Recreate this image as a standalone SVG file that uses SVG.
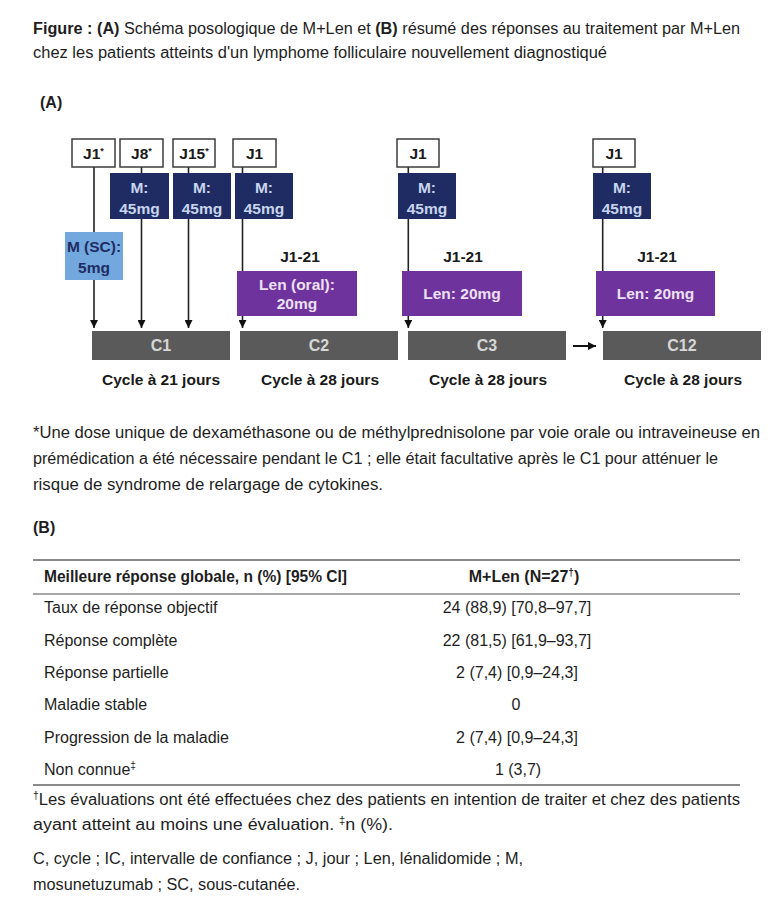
<svg xmlns="http://www.w3.org/2000/svg" width="775" height="907" viewBox="0 0 775 907">
<defs>
<style>
.t{font-family:"Liberation Sans Narrow","Liberation Sans",Arial,sans-serif;font-size:16px;fill:#1e1e1e}
.b{font-weight:bold}
.a{font-family:"Liberation Sans",Arial,sans-serif;font-weight:bold;font-size:15.5px;fill:#1a1a1a;text-anchor:middle}
.jb{fill:#ffffff;stroke:#3c3c3c;stroke-width:1.5}
.mb{fill:#1f2c63}
.sc{fill:#72a8de}
.lb{fill:#6f339e}
.bar{fill:#5a5a5a}
.bx{font-family:"Liberation Sans Narrow","Liberation Sans",Arial,sans-serif;font-weight:bold;font-size:15.5px;text-anchor:middle}
.mt{fill:#c8d5ee}
.st{fill:#1f2c63}
.lt{fill:#ece0f5}
.ct{fill:#d6d6d6;font-size:16px}
.ln{stroke:#222;stroke-width:1.6;fill:none}
.rule{stroke:#8a8a8a;fill:none}
.c{text-anchor:middle}
</style>
<marker id="ah" viewBox="0 0 10 10" refX="10" refY="5" markerWidth="8" markerHeight="8" markerUnits="userSpaceOnUse" orient="auto">
<path d="M0,0 L10,5 L0,10 z" fill="#111"/>
</marker>
</defs>
<rect width="775" height="907" fill="#ffffff"/>

<g id="title">
<text class="t" x="33" y="34" textLength="707" lengthAdjust="spacingAndGlyphs"><tspan class="b">Figure : (A)</tspan> Schéma posologique de M+Len et <tspan class="b">(B)</tspan> résumé des réponses au traitement par M+Len</text>
<text class="t" x="33" y="58" textLength="574" lengthAdjust="spacingAndGlyphs">chez les patients atteints d'un lymphome folliculaire nouvellement diagnostiqué</text>
</g>

<g id="labelA"><text class="t b" x="40" y="108">(A)</text></g>

<g id="connectors">
<line class="ln" x1="94" y1="167" x2="94" y2="328" marker-end="url(#ah)"/>
<line class="ln" x1="141.5" y1="167" x2="141.5" y2="328" marker-end="url(#ah)"/>
<line class="ln" x1="188.5" y1="167" x2="188.5" y2="328" marker-end="url(#ah)"/>
<line class="ln" x1="242.5" y1="167" x2="242.5" y2="328" marker-end="url(#ah)"/>
<line class="ln" x1="408.3" y1="167" x2="408.3" y2="328" marker-end="url(#ah)"/>
<line class="ln" x1="602.7" y1="167" x2="602.7" y2="328" marker-end="url(#ah)"/>
<line x1="573" y1="346" x2="596" y2="346" stroke="#111" stroke-width="2" marker-end="url(#ah)"/>
</g>

<g id="j1star"><rect class="jb" x="72" y="139" width="43" height="28"/><text class="a" x="93.5" y="159">J1<tspan font-size="9" dy="-5">*</tspan></text></g>
<g id="j8star"><rect class="jb" x="120" y="139" width="43" height="28"/><text class="a" x="141.5" y="159">J8<tspan font-size="9" dy="-5">*</tspan></text></g>
<g id="j15star"><rect class="jb" x="173" y="139" width="42" height="28"/><text class="a" x="194" y="159">J15<tspan font-size="9" dy="-5">*</tspan></text></g>
<g id="j1c2"><rect class="jb" x="233" y="139" width="43" height="28"/><text class="a" x="254.5" y="159">J1</text></g>
<g id="j1c3"><rect class="jb" x="397" y="139" width="42" height="28"/><text class="a" x="418" y="159">J1</text></g>
<g id="j1c12"><rect class="jb" x="593" y="139" width="42" height="28"/><text class="a" x="614" y="159">J1</text></g>

<g id="m_j8"><rect class="mb" x="110" y="173" width="59" height="46"/><text class="bx mt" x="139.5" y="193">M:</text><text class="bx mt" x="139.5" y="214">45mg</text></g>
<g id="m_j15"><rect class="mb" x="173" y="173" width="58" height="46"/><text class="bx mt" x="202" y="193">M:</text><text class="bx mt" x="202" y="214">45mg</text></g>
<g id="m_c2"><rect class="mb" x="235" y="173" width="58" height="46"/><text class="bx mt" x="264" y="193">M:</text><text class="bx mt" x="264" y="214">45mg</text></g>
<g id="m_c3"><rect class="mb" x="398" y="173" width="58" height="46"/><text class="bx mt" x="427" y="193">M:</text><text class="bx mt" x="427" y="214">45mg</text></g>
<g id="m_c12"><rect class="mb" x="593" y="173" width="58" height="46"/><text class="bx mt" x="622" y="193">M:</text><text class="bx mt" x="622" y="214">45mg</text></g>

<g id="m_sc"><rect class="sc" x="65" y="232" width="58" height="48"/><text class="bx st" x="94" y="252">M (SC):</text><text class="bx st" x="94" y="273">5mg</text></g>

<g id="len_c2"><text class="a" x="300" y="262">J1-21</text><rect class="lb" x="237" y="271" width="120" height="45"/><text class="bx lt" x="297" y="290">Len (oral):</text><text class="bx lt" x="297" y="309">20mg</text></g>
<g id="len_c3"><text class="a" x="463" y="262">J1-21</text><rect class="lb" x="402" y="271" width="120" height="45"/><text class="bx lt" x="462" y="299">Len: 20mg</text></g>
<g id="len_c12"><text class="a" x="657" y="262">J1-21</text><rect class="lb" x="596" y="271" width="119" height="45"/><text class="bx lt" x="655.5" y="299">Len: 20mg</text></g>

<g id="c1"><rect class="bar" x="92" y="331" width="138" height="29"/><text class="bx ct" x="161" y="351">C1</text><text class="a" x="161" y="385">Cycle à 21 jours</text></g>
<g id="c2"><rect class="bar" x="240" y="331" width="158" height="29"/><text class="bx ct" x="319" y="351">C2</text><text class="a" x="320" y="385">Cycle à 28 jours</text></g>
<g id="c3"><rect class="bar" x="408" y="331" width="158" height="29"/><text class="bx ct" x="487" y="351">C3</text><text class="a" x="488" y="385">Cycle à 28 jours</text></g>
<g id="c12"><rect class="bar" x="603" y="331" width="158" height="29"/><text class="bx ct" x="682" y="351">C12</text><text class="a" x="683" y="385">Cycle à 28 jours</text></g>

<g id="footnoteA">
<text class="t" x="33" y="438" textLength="727" lengthAdjust="spacingAndGlyphs">*Une dose unique de dexaméthasone ou de méthylprednisolone par voie orale ou intraveineuse en</text>
<text class="t" x="33" y="464" textLength="685" lengthAdjust="spacingAndGlyphs">prémédication a été nécessaire pendant le C1 ; elle était facultative après le C1 pour atténuer le</text>
<text class="t" x="33" y="490" textLength="350" lengthAdjust="spacingAndGlyphs">risque de syndrome de relargage de cytokines.</text>
</g>

<g id="labelB"><text class="t b" x="33" y="533">(B)</text></g>

<g id="table">
<line class="rule" x1="33" y1="560" x2="740" y2="560" stroke-width="2"/>
<line class="rule" x1="33" y1="594" x2="740" y2="594" stroke-width="1.6"/>
<line class="rule" x1="33" y1="785" x2="740" y2="785" stroke-width="2"/>
<text class="t b" x="44" y="582" textLength="303" lengthAdjust="spacingAndGlyphs">Meilleure réponse globale, n (%) [95% CI]</text>
<text class="t b c" x="524" y="582">M+Len (N=27<tspan font-size="10" dy="-6">†</tspan><tspan dy="6">)</tspan></text>
<text class="t" x="44" y="613">Taux de réponse objectif</text>
<text class="t c" x="517" y="613">24 (88,9) [70,8–97,7]</text>
<text class="t" x="44" y="646">Réponse complète</text>
<text class="t c" x="517" y="646">22 (81,5) [61,9–93,7]</text>
<text class="t" x="44" y="678">Réponse partielle</text>
<text class="t c" x="517" y="678">2 (7,4) [0,9–24,3]</text>
<text class="t" x="44" y="710">Maladie stable</text>
<text class="t c" x="516" y="710">0</text>
<text class="t" x="44" y="743">Progression de la maladie</text>
<text class="t c" x="517" y="743">2 (7,4) [0,9–24,3]</text>
<text class="t" x="44" y="775">Non connue<tspan font-size="10" dy="-6">‡</tspan></text>
<text class="t c" x="518" y="775">1 (3,7)</text>
</g>

<g id="footnoteB">
<text class="t" x="33" y="805" textLength="707" lengthAdjust="spacingAndGlyphs"><tspan font-size="10" dy="-6">†</tspan><tspan dy="6">Les évaluations ont été effectuées chez des patients en intention de traiter et chez des patients</tspan></text>
<text class="t" x="33" y="830" textLength="360" lengthAdjust="spacingAndGlyphs">ayant atteint au moins une évaluation. <tspan font-size="10" dy="-6">‡</tspan><tspan dy="6">n (%).</tspan></text>
<text class="t" x="33" y="864" textLength="490" lengthAdjust="spacingAndGlyphs">C, cycle ; IC, intervalle de confiance ; J, jour ; Len, lénalidomide ; M,</text>
<text class="t" x="33" y="890" textLength="267" lengthAdjust="spacingAndGlyphs">mosunetuzumab ; SC, sous-cutanée.</text>
</g>
</svg>
